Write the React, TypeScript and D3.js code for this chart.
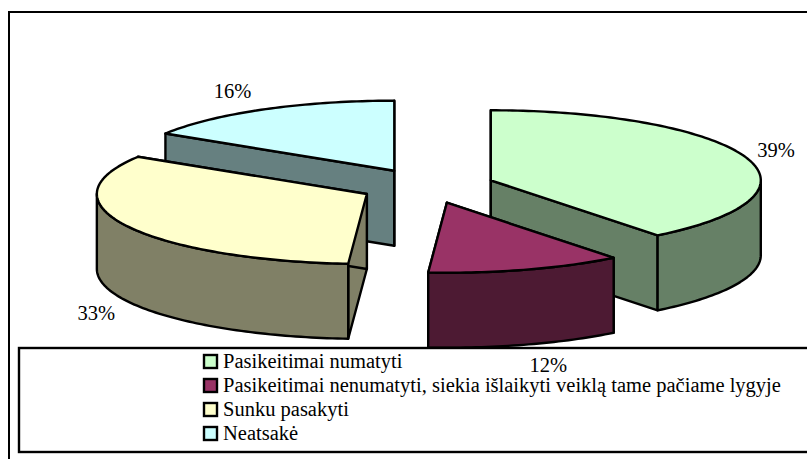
import React from "react";
import * as d3 from "d3";

const categories = [
  "Pasikeitimai numatyti",
  "Pasikeitimai nenumatyti, siekia išlaikyti veiklą tame pačiame lygyje",
  "Sunku pasakyti",
  "Neatsakė",
];
const values = [39.4, 11.7, 32.8, 16.1];
const labels = ["39%", "12%", "33%", "16%"];
const topColors = ["#CCFFCC", "#993366", "#FFFFCC", "#CCFFFF"];
const wallColors = ["#668066", "#4D1A33", "#808066", "#668080"];
const drawOrder = [3, 0, 2, 1];
const labelNudge: [number, number][] = [[30, -7], [22, 20], [-30, 12], [-31, -18]];

const W = 807, H = 459;
const CX = 427, CY = 186, RX = 270, RY = 70, DEPTH = 75, EXPLODE = 0.25;
const FONT = "'Liberation Serif', 'Times New Roman', serif";

const pie = d3.pie<number>().sort(null).startAngle(0).endAngle(2 * Math.PI);
const arcs = pie(values);

const line = d3.line<[number, number]>().x((d) => d[0]).y((d) => d[1]);
const sample = (a0: number, a1: number) => {
  const n = Math.max(2, Math.ceil(Math.abs(a1 - a0) / 0.02));
  return d3.range(n + 1).map((i) => a0 + ((a1 - a0) * i) / n);
};

export default function App() {
  return (
    <svg width={W} height={H} style={{ position: "fixed", left: 0, top: 0, background: "#fff" }}>
      <rect x={9} y={12} width={W + 20} height={H + 20} fill="#fff" stroke="#000" strokeWidth={2} />
      {drawOrder.map((i) => {
        const a = arcs[i];
        const mid = (a.startAngle + a.endAngle) / 2;
        const cx = CX + EXPLODE * RX * Math.sin(mid);
        const cy = CY - EXPLODE * RY * Math.cos(mid);
        const pt = (t: number, dz = 0): [number, number] => [
          cx + RX * Math.sin(t),
          cy - RY * Math.cos(t) + dz,
        ];
        const apex: [number, number] = [cx, cy];
        const apexLow: [number, number] = [cx, cy + DEPTH];
        const cut = (t: number) => line([apex, pt(t), pt(t, DEPTH), apexLow])! + "Z";
        // the outer wall is only seen on the front half of the ellipse
        const w0 = Math.max(a.startAngle, Math.PI / 2);
        const w1 = Math.min(a.endAngle, (3 * Math.PI) / 2);
        const wall =
          w1 > w0
            ? line([
                ...sample(w0, w1).map((t) => pt(t)),
                ...sample(w1, w0).map((t) => pt(t, DEPTH)),
              ])! + "Z"
            : null;
        const top =
          line([apex, ...sample(a.startAngle, a.endAngle).map((t) => pt(t))])! + "Z";
        const common = { stroke: "#000", strokeWidth: 2.4, strokeLinejoin: "round" as const };
        return (
          <g key={i}>
            <path d={cut(a.startAngle)} fill={wallColors[i]} {...common} />
            <path d={cut(a.endAngle)} fill={wallColors[i]} {...common} />
            {wall && <path d={wall} fill={wallColors[i]} {...common} />}
            <path d={top} fill={topColors[i]} {...common} />
          </g>
        );
      })}
      <rect x={19} y={348} width={W + 20} height={104} fill="#fff" stroke="#000" strokeWidth={2.4} />
      {arcs.map((a, i) => {
        const mid = (a.startAngle + a.endAngle) / 2;
        const cx = CX + EXPLODE * RX * Math.sin(mid);
        const cy = CY - EXPLODE * RY * Math.cos(mid);
        const front = Math.cos(mid) < 0 ? DEPTH : 0;
        return (
          <text
            key={i}
            x={cx + RX * Math.sin(mid) + labelNudge[i][0]}
            y={cy - RY * Math.cos(mid) + front + labelNudge[i][1] + 7}
            textAnchor="middle"
            fontFamily={FONT}
            fontSize={20.5}
            fill="#000"
          >
            {labels[i]}
          </text>
        );
      })}
      {categories.map((c, i) => {
        const y = 362 + i * 24;
        return (
          <g key={c}>
            <rect x={204} y={y - 7} width={13} height={13} fill={topColors[i]} stroke="#000" strokeWidth={2.4} />
            <text x={223} y={y + 6} fontFamily={FONT} fontSize={20.5} fill="#000">
              {c}
            </text>
          </g>
        );
      })}
    </svg>
  );
}
